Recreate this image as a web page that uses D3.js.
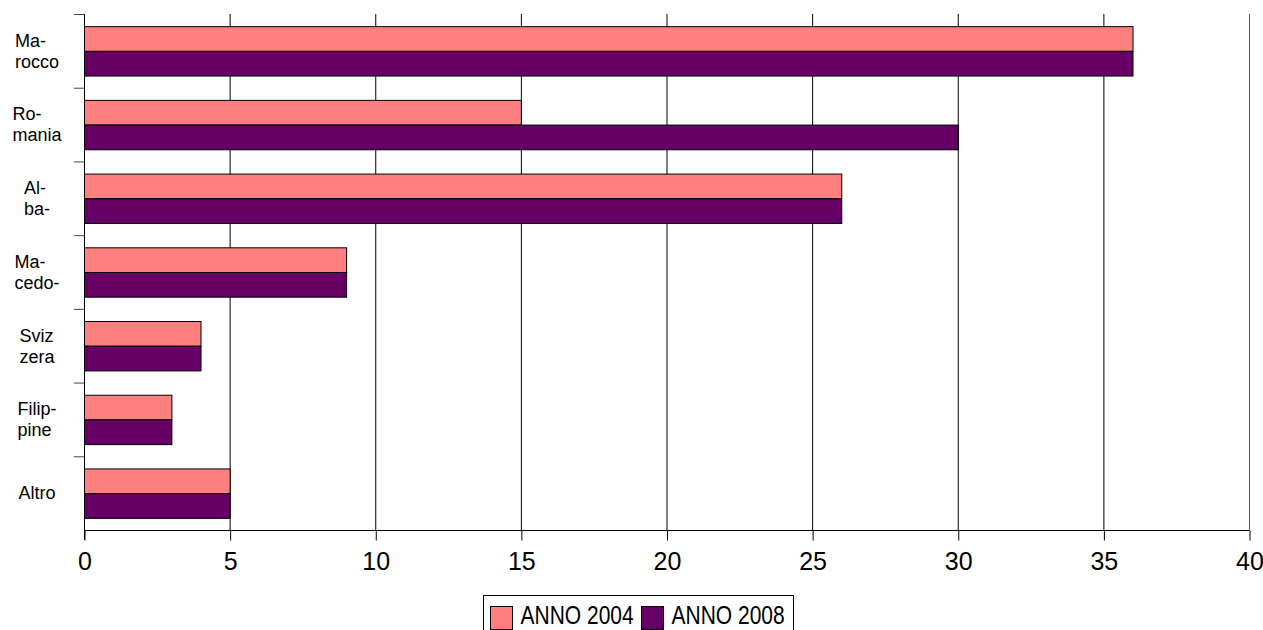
<!DOCTYPE html>
<html>
<head>
<meta charset="utf-8">
<script src="https://cdn.jsdelivr.net/npm/d3@7"></script>
<style>
  body { margin: 0; background: #fff; }
  svg { display: block; font-family: "Liberation Sans", Arial, sans-serif; }
</style>
</head>
<body>
<svg id="chart" width="1263" height="630"></svg>
<script>
// Country labels (already split over two lines) and values per year
const categories = [
  ["Ma-", "rocco"],
  ["Ro-", "mania"],
  ["Al-", "ba-"],
  ["Ma-", "cedo-"],
  ["Sviz", "zera"],
  ["Filip-", "pine"],
  ["Altro"]
];
const series = ["ANNO 2004", "ANNO 2008"];
const values2004 = [36, 15, 26, 9, 4, 3, 5];
const values2008 = [36, 30, 26, 9, 4, 3, 5];
const xTicks = [0, 5, 10, 15, 20, 25, 30, 35, 40];
const colors = ["#FF8080", "#660066"];

const svg = d3.select("#chart");
const margin = { left: 84, top: 14 };
const plotBottom = 530;

const idx = d3.range(categories.length);
const x = d3.scaleLinear().domain([0, 40]).range([margin.left, 1249]);
const y = d3.scaleBand().domain(idx).range([margin.top, plotBottom]).paddingInner(0.33).paddingOuter(0.165);
const yBand = d3.scaleBand().domain(idx).range([margin.top, plotBottom]);
const ySub = d3.scaleBand().domain(series).range([0, y.bandwidth()]);

// vertical grid lines
svg.append("g").selectAll("line").data(xTicks.slice(1)).join("line")
  .attr("x1", d => x(d) + 0.5).attr("x2", d => x(d) + 0.5)
  .attr("y1", margin.top).attr("y2", plotBottom)
  .attr("stroke", d => d === 40 ? "#555" : "#000").attr("stroke-width", 1);

// bars
const data = [values2004, values2008];
series.forEach((s, si) => {
  svg.append("g").selectAll("rect").data(idx).join("rect")
    .attr("x", x(0) + 0.5)
    .attr("y", i => y(i) + ySub(s) + 0.5)
    .attr("width", i => x(data[si][i]) - x(0))
    .attr("height", ySub.bandwidth())
    .attr("fill", colors[si])
    .attr("stroke", "#000").attr("stroke-width", 1);
});

// x axis
const xAxis = d3.axisBottom(x).tickValues(xTicks).tickSize(10).tickPadding(12);
const gx = svg.append("g").attr("transform", `translate(0.5,${plotBottom + 0.5})`).call(xAxis);
gx.attr("font-size", null).attr("font-family", null);
gx.select(".domain").attr("d", `M${x(0)},0H${x(40)}`).attr("stroke", "#000");
gx.selectAll(".tick line").attr("stroke", "#000");
gx.selectAll(".tick text").style("font-size", "25px").attr("fill", "#000");

// y axis with tick marks at band boundaries
const gy = svg.append("g");
gy.append("line").attr("x1", x(0) + 0.5).attr("x2", x(0) + 0.5)
  .attr("y1", margin.top).attr("y2", plotBottom + 10).attr("stroke", "#000");
gy.selectAll("line.tk").data(idx).join("line").attr("class", "tk")
  .attr("x1", x(0) - 10).attr("x2", x(0))
  .attr("y1", i => yBand(i) + 0.5).attr("y2", i => yBand(i) + 0.5)
  .attr("stroke", "#444");

// category labels
const labels = gy.selectAll("text.cat").data(idx).join("text").attr("class", "cat")
  .style("font-size", "18px").attr("fill", "#000");
labels.each(function (i) {
  const lines = categories[i];
  const t = d3.select(this);
  const cy = yBand(i) + yBand.bandwidth() / 2;
  lines.forEach((ln, li) => {
    t.append("tspan").text(ln)
      .attr("y", cy + (li - (lines.length - 1) / 2) * 21)
      .attr("dy", "0.35em");
  });
  // left-aligned lines inside a block centred on the label column
  const w = d3.max(t.selectAll("tspan").nodes(), n => n.getComputedTextLength());
  t.selectAll("tspan").attr("x", 37 - w / 2);
});

// legend
const lg = svg.append("g").attr("transform", "translate(483.5,595.5)");
lg.append("rect").attr("width", 310).attr("height", 45).attr("fill", "#fff").attr("stroke", "#000");
const items = [{ s: series[0], c: colors[0], sx: 7, tx: 37 }, { s: series[1], c: colors[1], sx: 158, tx: 188 }];
items.forEach(it => {
  lg.append("rect").attr("x", it.sx).attr("y", 11).attr("width", 22).attr("height", 23)
    .attr("fill", it.c).attr("stroke", "#000");
  lg.append("text").attr("transform", `translate(${it.tx},28.5) scale(0.84,1)`)
    .style("font-size", "25px").text(it.s);
});
</script>
</body>
</html>
